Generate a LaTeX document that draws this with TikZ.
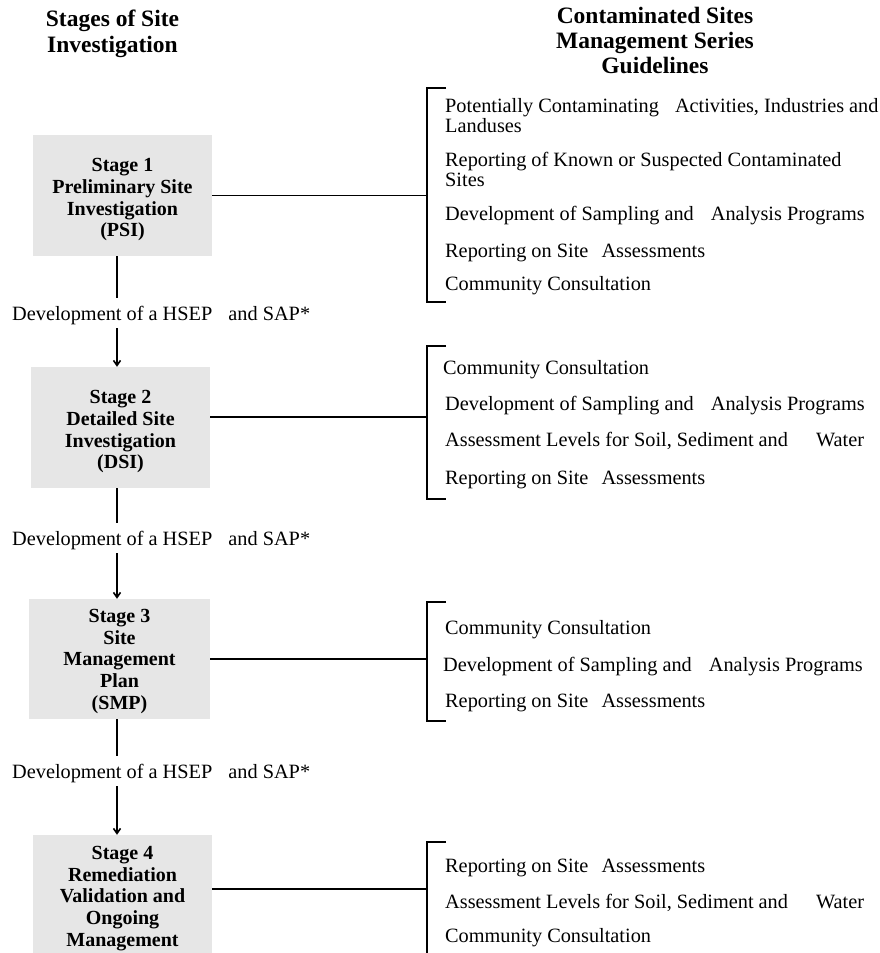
\documentclass[tikz,border=0pt]{standalone}
\usepackage{fontspec}
\setmainfont{Liberation Serif}
\usetikzlibrary{arrows.meta}
\definecolor{boxgray}{HTML}{E6E6E6}
\begin{document}
\begin{tikzpicture}[x=1pt,y=-1pt,
  stagebox/.style={fill=boxgray, draw=none, align=center, inner sep=0pt,
    font=\fontsize{20}{21.7}\selectfont\bfseries},
  item/.style={anchor=base west, inner sep=0pt, align=left,
    font=\fontsize{20.3}{20}\selectfont},
  lab/.style={anchor=base west, inner xsep=0pt, inner ysep=8pt, text height=14pt,
    text depth=0pt, font=\fontsize{20.3}{24}\selectfont},
  conn/.style={line width=1.6pt},
  arr/.style={conn, -{Straight Barb[length=5pt,width=7pt]}},
  head/.style={align=center, inner sep=0pt, anchor=base,
    font=\fontsize{23.5}{25}\selectfont\bfseries}]
\useasboundingbox (0,0) rectangle (879,953);
\clip (0,0) rectangle (879,953);

% headings (base anchor = baseline of the last line)
\node[head] (hleft) at (112.5,52) {Stages of Site\\Investigation};
\node[head] (hright) at (655,73) {Contaminated Sites\\Management Series\\Guidelines};

% stage boxes
\node[stagebox, minimum width=179pt, minimum height=121pt] (box1) at (122.5,195.5)
  {\rule{0pt}{22pt}Stage 1\\Preliminary Site\\Investigation\\(PSI)};
\node[stagebox, minimum width=179pt, minimum height=121pt] (box2) at (120.5,427.5)
  {\rule{0pt}{22pt}Stage 2\\Detailed Site\\Investigation\\(DSI)};
\node[stagebox, minimum width=181pt, minimum height=120pt] (box3) at (119.5,659)
  {\rule{0pt}{18pt}Stage 3\\Site\\Management\\Plan\\(SMP)};
\node[stagebox, minimum width=179pt, minimum height=120pt] (box4) at (122.5,895)
  {\rule{0pt}{20pt}Stage 4\\Remediation\\Validation and\\Ongoing\\Management};

% labels between stages
\node[lab] (lab1) at (12,320) {Development of a HSEP\hspace{11pt} and SAP*};
\node[lab] (lab2) at (12,545) {Development of a HSEP\hspace{11pt} and SAP*};
\node[lab] (lab3) at (12,778) {Development of a HSEP\hspace{11pt} and SAP*};

\coordinate (ax) at (117,0);
\draw[conn] (box1.south -| ax) -- (lab1.north -| ax);
\draw[arr] (lab1.south -| ax) -- (box2.north -| ax);
\draw[conn] (box2.south -| ax) -- (lab2.north -| ax);
\draw[arr] (lab2.south -| ax) -- (box3.north -| ax);
\draw[conn] (box3.south -| ax) -- (lab3.north -| ax);
\draw[arr] (lab3.south -| ax) -- (box4.north -| ax);

% brackets
\coordinate (b1t) at (427,88);  \coordinate (b1b) at (427,302); \coordinate (b1m) at (427,195.5);
\coordinate (b2t) at (427,346); \coordinate (b2b) at (427,499); \coordinate (b2m) at (427,417);
\coordinate (b3t) at (427,602); \coordinate (b3b) at (427,721); \coordinate (b3m) at (427,659);
\coordinate (b4t) at (427,842); \coordinate (b4b) at (427,965); \coordinate (b4m) at (427,889);
\foreach \b in {b1,b2,b3,b4}{
  \draw[conn] ([xshift=19pt]\b t) -- (\b t) -- (\b b) -- ([xshift=19pt]\b b);
}
\draw[conn] (box1.east |- b1m) -- (b1m);
\draw[conn] (box2.east |- b2m) -- (b2m);
\draw[conn] (box3.east |- b3m) -- (b3m);
\draw[conn] (box4.east |- b4m) -- (b4m);

% guideline items
\node[item] (g11) at (445,132) {Potentially Contaminating\hspace{11pt} Activities, Industries and\\Landuses};
\node[item] (g12) at (445,186) {Reporting of Known or Suspected Contaminated\\Sites};
\node[item] (g13) at (445,220) {Development of Sampling and\hspace{12pt} Analysis Programs};
\node[item] (g14) at (445,257) {Reporting on Site\hspace{8pt} Assessments};
\node[item] (g15) at (445,290) {Community Consultation};

\node[item] (g21) at (443,374) {Community Consultation};
\node[item] (g22) at (445,410) {Development of Sampling and\hspace{12pt} Analysis Programs};
\node[item] (g23) at (445,446) {Assessment Levels for Soil, Sediment and\hspace{23pt} Water};
\node[item] (g24) at (445,484) {Reporting on Site\hspace{8pt} Assessments};

\node[item] (g31) at (445,634) {Community Consultation};
\node[item] (g32) at (443,671) {Development of Sampling and\hspace{12pt} Analysis Programs};
\node[item] (g33) at (445,707) {Reporting on Site\hspace{8pt} Assessments};

\node[item] (g41) at (445,872) {Reporting on Site\hspace{8pt} Assessments};
\node[item] (g42) at (445,908) {Assessment Levels for Soil, Sediment and\hspace{23pt} Water};
\node[item] (g43) at (445,942) {Community Consultation};
\end{tikzpicture}
\end{document}
